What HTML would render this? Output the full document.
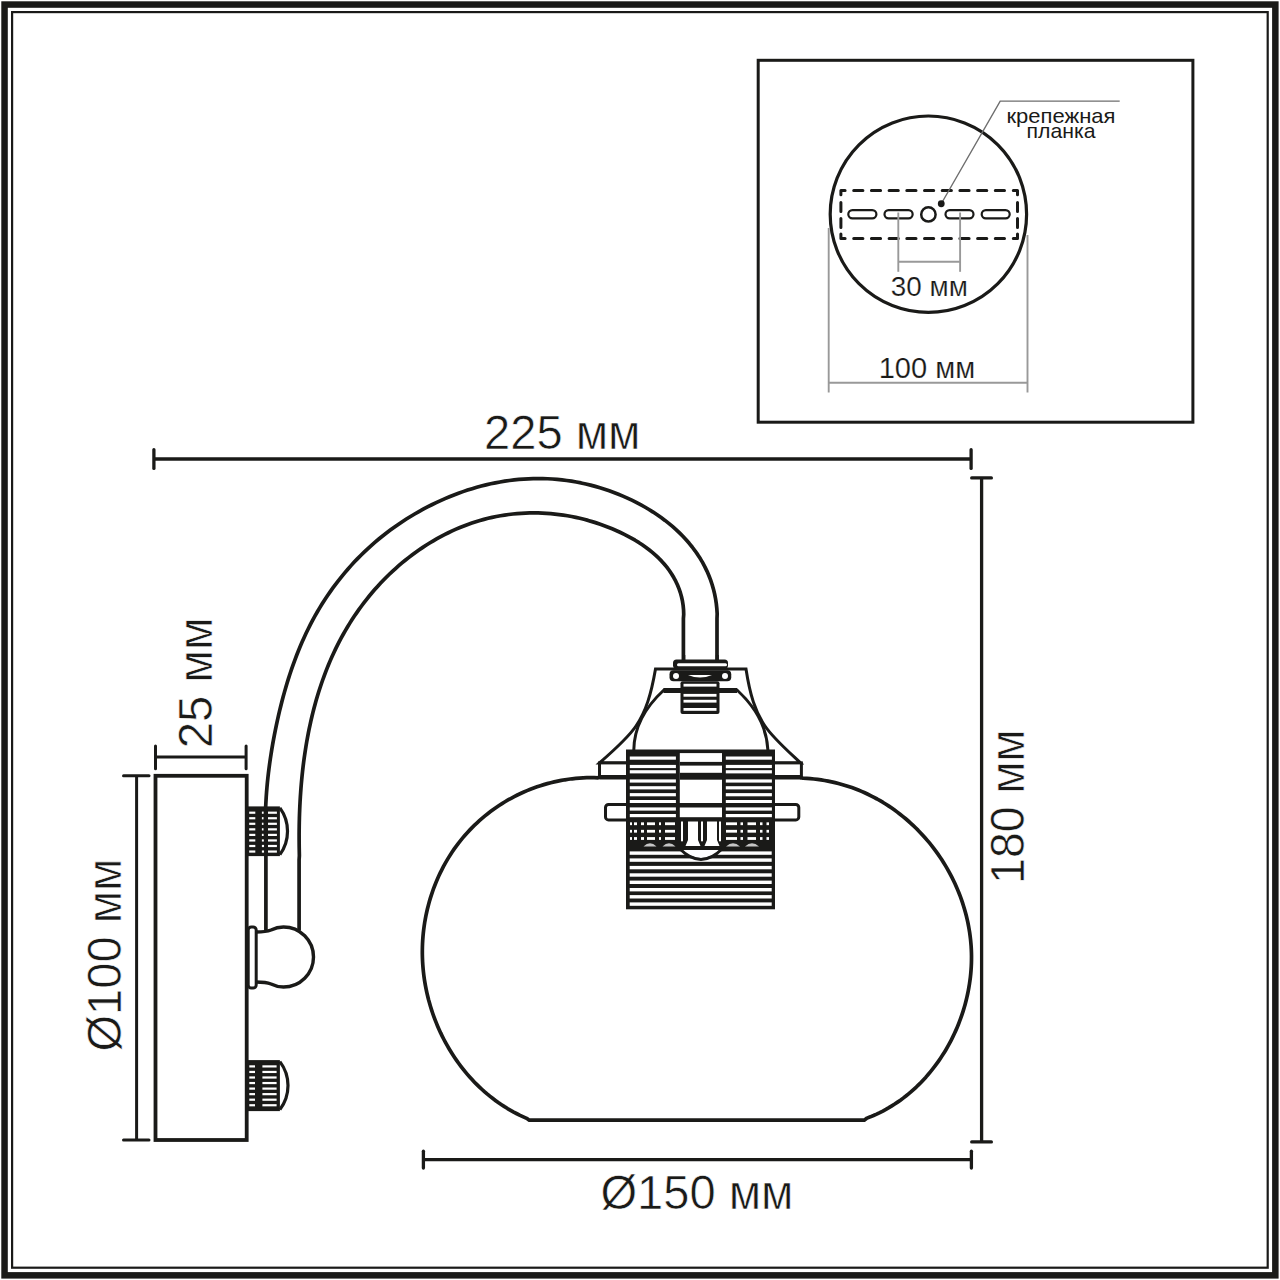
<!DOCTYPE html>
<html><head><meta charset="utf-8"><style>
html,body{margin:0;padding:0;background:#fff;}
svg{display:block;}
text{font-family:"Liberation Sans",sans-serif;}
</style></head><body>
<svg width="1280" height="1280" viewBox="0 0 1280 1280">
<rect width="1280" height="1280" fill="#fff"/>
<rect x="4.55" y="4.55" width="1270.8" height="1270.8" rx="0" fill="none" stroke="#1a1a18" stroke-width="6.5"/>
<rect x="12.1" y="12.1" width="1255.6" height="1255.6" rx="0" fill="none" stroke="#1a1a18" stroke-width="2.2"/>
<rect x="758.2" y="60.3" width="434.7" height="361.9" rx="0" fill="none" stroke="#1a1a18" stroke-width="3.0"/>
<circle cx="928.4" cy="214.2" r="98.2" fill="none" stroke="#1a1a18" stroke-width="3.2"/>
<path d="M853.70,190.4 H862.90 M853.70,238.4 H862.90 M871.40,190.4 H880.60 M871.40,238.4 H880.60 M889.10,190.4 H898.30 M889.10,238.4 H898.30 M906.80,190.4 H916.00 M906.80,238.4 H916.00 M924.50,190.4 H933.70 M924.50,238.4 H933.70 M942.20,190.4 H951.40 M942.20,238.4 H951.40 M959.90,190.4 H969.10 M959.90,238.4 H969.10 M977.60,190.4 H986.80 M977.60,238.4 H986.80 M995.30,190.4 H1004.50 M995.30,238.4 H1004.50 M840.9,202.4 V211.60 M1017.5,202.4 V211.60 M840.9,218.4 V227.60 M1017.5,218.4 V227.60 M845.1,190.4 H840.9 V194.75 M840.9,234 V238.4 H845.1 M1013.3,190.4 H1017.5 V194.75 M1017.5,234 V238.4 H1013.3" fill="none" stroke="#1a1a18" stroke-width="3" stroke-linecap="round" stroke-linejoin="round"/>
<rect x="848.3000000000001" y="210.1" width="28.10" height="8.3" rx="4.15" fill="none" stroke="#1a1a18" stroke-width="2.2"/>
<rect x="884.5" y="210.1" width="28.15" height="8.3" rx="4.15" fill="none" stroke="#1a1a18" stroke-width="2.2"/>
<rect x="945.5" y="210.1" width="28.00" height="8.3" rx="4.15" fill="none" stroke="#1a1a18" stroke-width="2.2"/>
<rect x="981.7" y="210.1" width="28.00" height="8.3" rx="4.15" fill="none" stroke="#1a1a18" stroke-width="2.2"/>
<circle cx="928.4" cy="214.4" r="7.2" fill="none" stroke="#1a1a18" stroke-width="2.5"/>
<polyline points="941.25,203.75 1000.2,101.1 1119.7,101.1" fill="none" stroke="#6e6e6e" stroke-width="1.4"/>
<circle cx="941.25" cy="203.75" r="3.4" fill="#1a1a18"/>
<line x1="898.3" y1="212.5" x2="898.3" y2="271.8" stroke="#999999" stroke-width="1.9" stroke-linecap="butt"/>
<line x1="960.1" y1="212.5" x2="960.1" y2="271.8" stroke="#999999" stroke-width="1.9" stroke-linecap="butt"/>
<line x1="898.3" y1="261.7" x2="960.1" y2="261.7" stroke="#999999" stroke-width="1.9" stroke-linecap="butt"/>
<line x1="828.7" y1="228" x2="828.7" y2="392.5" stroke="#999999" stroke-width="1.9" stroke-linecap="butt"/>
<line x1="1027.5" y1="235" x2="1027.5" y2="392.5" stroke="#999999" stroke-width="1.9" stroke-linecap="butt"/>
<line x1="828.7" y1="382.8" x2="1027.5" y2="382.8" stroke="#999999" stroke-width="1.9" stroke-linecap="butt"/>
<line x1="153.9" y1="459" x2="971.1" y2="459" stroke="#1a1a18" stroke-width="3.3" stroke-linecap="butt"/>
<line x1="153.9" y1="449.7" x2="153.9" y2="468.4" stroke="#1a1a18" stroke-width="3.3" stroke-linecap="round"/>
<line x1="971.1" y1="449.7" x2="971.1" y2="468.4" stroke="#1a1a18" stroke-width="3.3" stroke-linecap="round"/>
<line x1="981.6" y1="477.9" x2="981.6" y2="1141.9" stroke="#1a1a18" stroke-width="3.3" stroke-linecap="butt"/>
<line x1="971.7" y1="477.9" x2="991.4" y2="477.9" stroke="#1a1a18" stroke-width="3.3" stroke-linecap="round"/>
<line x1="971.7" y1="1141.9" x2="991.4" y2="1141.9" stroke="#1a1a18" stroke-width="3.3" stroke-linecap="round"/>
<line x1="423.4" y1="1159.7" x2="971.4" y2="1159.7" stroke="#1a1a18" stroke-width="3.3" stroke-linecap="butt"/>
<line x1="423.4" y1="1151.2" x2="423.4" y2="1168.1" stroke="#1a1a18" stroke-width="3.3" stroke-linecap="round"/>
<line x1="971.4" y1="1151.2" x2="971.4" y2="1168.1" stroke="#1a1a18" stroke-width="3.3" stroke-linecap="round"/>
<line x1="155.5" y1="757" x2="246.1" y2="757" stroke="#1a1a18" stroke-width="3.0" stroke-linecap="butt"/>
<line x1="155.5" y1="746" x2="155.5" y2="768.75" stroke="#1a1a18" stroke-width="3.0" stroke-linecap="round"/>
<line x1="246.1" y1="746" x2="246.1" y2="768.75" stroke="#1a1a18" stroke-width="3.0" stroke-linecap="round"/>
<line x1="136.6" y1="775.8" x2="136.6" y2="1140" stroke="#1a1a18" stroke-width="3.0" stroke-linecap="butt"/>
<line x1="123.5" y1="775.8" x2="149" y2="775.8" stroke="#1a1a18" stroke-width="3.0" stroke-linecap="round"/>
<line x1="123.5" y1="1140" x2="149" y2="1140" stroke="#1a1a18" stroke-width="3.0" stroke-linecap="round"/>
<rect x="155.5" y="775.8" width="91.2" height="364.2" rx="0" fill="none" stroke="#1a1a18" stroke-width="3.8"/>
<rect x="246.7" y="1060.1" width="33.2" height="51.0" rx="0" fill="#1a1a18"/>
<rect x="249.3" y="1065.3" width="5.699999999999989" height="2.2" rx="0" fill="#fff"/>
<rect x="262.4" y="1065.3" width="14.200000000000045" height="2.2" rx="0" fill="#fff"/>
<rect x="249.3" y="1070.85" width="5.699999999999989" height="2.2" rx="0" fill="#fff"/>
<rect x="262.4" y="1070.85" width="14.200000000000045" height="2.2" rx="0" fill="#fff"/>
<rect x="249.3" y="1076.3999999999999" width="5.699999999999989" height="2.2" rx="0" fill="#fff"/>
<rect x="262.4" y="1076.3999999999999" width="14.200000000000045" height="2.2" rx="0" fill="#fff"/>
<rect x="249.3" y="1081.95" width="5.699999999999989" height="2.2" rx="0" fill="#fff"/>
<rect x="262.4" y="1081.95" width="14.200000000000045" height="2.2" rx="0" fill="#fff"/>
<rect x="249.3" y="1087.5" width="5.699999999999989" height="2.2" rx="0" fill="#fff"/>
<rect x="262.4" y="1087.5" width="14.200000000000045" height="2.2" rx="0" fill="#fff"/>
<rect x="249.3" y="1093.05" width="5.699999999999989" height="2.2" rx="0" fill="#fff"/>
<rect x="262.4" y="1093.05" width="14.200000000000045" height="2.2" rx="0" fill="#fff"/>
<rect x="249.3" y="1098.6" width="5.699999999999989" height="2.2" rx="0" fill="#fff"/>
<rect x="262.4" y="1098.6" width="14.200000000000045" height="2.2" rx="0" fill="#fff"/>
<rect x="249.3" y="1104.1499999999999" width="5.699999999999989" height="2.2" rx="0" fill="#fff"/>
<rect x="262.4" y="1104.1499999999999" width="14.200000000000045" height="2.2" rx="0" fill="#fff"/>
<path d="M279.9,1061.6 A39.6,39.6 0 0 1 279.9,1109.6" fill="none" stroke="#1a1a18" stroke-width="3.2" />
<rect x="246.7" y="806.4" width="33.2" height="49.700000000000045" rx="0" fill="#1a1a18"/>
<rect x="249.2" y="811.5999999999999" width="6.100000000000023" height="2.2" rx="0" fill="#fff"/>
<rect x="261.9" y="811.5999999999999" width="2.8000000000000114" height="2.2" rx="0" fill="#fff"/>
<rect x="268" y="811.5999999999999" width="8.899999999999977" height="2.2" rx="0" fill="#fff"/>
<rect x="249.2" y="817.1499999999999" width="6.100000000000023" height="2.2" rx="0" fill="#fff"/>
<rect x="261.9" y="817.1499999999999" width="2.8000000000000114" height="2.2" rx="0" fill="#fff"/>
<rect x="268" y="817.1499999999999" width="8.899999999999977" height="2.2" rx="0" fill="#fff"/>
<rect x="249.2" y="822.6999999999999" width="6.100000000000023" height="2.2" rx="0" fill="#fff"/>
<rect x="261.9" y="822.6999999999999" width="2.8000000000000114" height="2.2" rx="0" fill="#fff"/>
<rect x="268" y="822.6999999999999" width="8.899999999999977" height="2.2" rx="0" fill="#fff"/>
<rect x="249.2" y="828.2499999999999" width="6.100000000000023" height="2.2" rx="0" fill="#fff"/>
<rect x="261.9" y="828.2499999999999" width="2.8000000000000114" height="2.2" rx="0" fill="#fff"/>
<rect x="268" y="828.2499999999999" width="8.899999999999977" height="2.2" rx="0" fill="#fff"/>
<rect x="249.2" y="833.8" width="6.100000000000023" height="2.2" rx="0" fill="#fff"/>
<rect x="261.9" y="833.8" width="2.8000000000000114" height="2.2" rx="0" fill="#fff"/>
<rect x="268" y="833.8" width="8.899999999999977" height="2.2" rx="0" fill="#fff"/>
<rect x="249.2" y="839.3499999999999" width="6.100000000000023" height="2.2" rx="0" fill="#fff"/>
<rect x="261.9" y="839.3499999999999" width="2.8000000000000114" height="2.2" rx="0" fill="#fff"/>
<rect x="268" y="839.3499999999999" width="8.899999999999977" height="2.2" rx="0" fill="#fff"/>
<rect x="249.2" y="844.8999999999999" width="6.100000000000023" height="2.2" rx="0" fill="#fff"/>
<rect x="261.9" y="844.8999999999999" width="2.8000000000000114" height="2.2" rx="0" fill="#fff"/>
<rect x="268" y="844.8999999999999" width="8.899999999999977" height="2.2" rx="0" fill="#fff"/>
<rect x="249.2" y="850.4499999999999" width="6.100000000000023" height="2.2" rx="0" fill="#fff"/>
<rect x="261.9" y="850.4499999999999" width="2.8000000000000114" height="2.2" rx="0" fill="#fff"/>
<rect x="268" y="850.4499999999999" width="8.899999999999977" height="2.2" rx="0" fill="#fff"/>
<path d="M279.9,807.9 A39.6,39.6 0 0 1 279.9,854.6" fill="none" stroke="#1a1a18" stroke-width="3.2" />
<path d="M265.9,930.6 L265.90,850.00 L265.92,845.13 L265.68,840.26 L265.50,835.41 L265.39,830.56 L265.34,825.72 L265.34,820.89 L265.41,816.07 L265.53,811.26 L265.70,806.45 L265.94,801.65 L266.22,796.85 L266.56,792.06 L266.95,787.28 L267.39,782.50 L267.89,777.72 L268.43,772.95 L269.02,768.19 L269.66,763.43 L270.34,758.67 L271.07,753.91 L271.84,749.16 L272.65,744.41 L273.51,739.66 L274.41,734.91 L275.35,730.16 L276.33,725.42 L277.35,720.68 L278.41,715.94 L279.51,711.20 L280.66,706.48 L281.85,701.76 L283.09,697.06 L284.38,692.37 L285.71,687.69 L287.10,683.03 L288.54,678.38 L290.03,673.76 L291.58,669.16 L293.18,664.58 L294.84,660.02 L296.56,655.49 L298.34,650.99 L300.18,646.52 L302.08,642.08 L304.04,637.68 L306.07,633.31 L308.17,628.97 L310.33,624.67 L312.56,620.42 L314.87,616.20 L317.24,612.03 L319.68,607.90 L322.18,603.82 L324.76,599.78 L327.41,595.79 L330.12,591.84 L332.90,587.95 L335.75,584.10 L338.66,580.30 L341.65,576.56 L344.70,572.86 L347.81,569.22 L351.00,565.64 L354.25,562.11 L357.56,558.63 L360.94,555.22 L364.39,551.86 L367.90,548.56 L371.48,545.32 L375.12,542.14 L378.82,539.03 L382.59,535.97 L386.42,532.99 L390.30,530.07 L394.24,527.21 L398.23,524.42 L402.28,521.71 L406.37,519.06 L410.51,516.48 L414.69,513.98 L418.91,511.56 L423.18,509.20 L427.48,506.93 L431.82,504.73 L436.19,502.61 L440.59,500.58 L445.02,498.62 L449.48,496.75 L453.97,494.96 L458.48,493.25 L463.01,491.63 L467.57,490.10 L472.15,488.66 L476.74,487.31 L481.36,486.05 L486.00,484.89 L490.66,483.82 L495.33,482.84 L500.02,481.96 L504.72,481.18 L509.44,480.49 L514.17,479.91 L518.91,479.43 L523.66,479.05 L528.42,478.78 L533.19,478.61 L537.97,478.55 L542.75,478.59 L547.54,478.75 L552.33,479.01 L557.13,479.39 L561.92,479.88 L566.72,480.48 L571.51,481.19 L576.29,482.01 L581.06,482.94 L585.81,483.98 L590.55,485.12 L595.26,486.38 L599.95,487.74 L604.61,489.20 L609.25,490.77 L613.84,492.44 L618.40,494.22 L622.92,496.10 L627.40,498.08 L631.82,500.16 L636.20,502.34 L640.52,504.62 L644.79,507.00 L648.98,509.48 L653.11,512.06 L657.16,514.74 L661.12,517.52 L665.00,520.40 L668.78,523.38 L672.47,526.45 L676.05,529.63 L679.52,532.90 L682.87,536.28 L686.11,539.75 L689.21,543.33 L692.19,547.00 L695.03,550.77 L697.72,554.64 L700.27,558.61 L702.66,562.67 L704.89,566.84 L706.95,571.10 L708.85,575.47 L710.56,579.93 L712.10,584.49 L713.45,589.15 L714.60,593.90 L715.56,598.76 L716.31,603.71 L716.85,608.76 L717.18,613.91 L717.00,618.50 L717.0,660.5" fill="none" stroke="#1a1a18" stroke-width="3.7" stroke-linejoin="round"/>
<path d="M299.1,930.6 L299.10,860.00 L299.37,855.61 L299.28,851.46 L299.20,847.31 L299.16,843.14 L299.13,838.96 L299.13,834.77 L299.15,830.58 L299.21,826.37 L299.28,822.16 L299.39,817.94 L299.52,813.71 L299.69,809.48 L299.88,805.25 L300.10,801.01 L300.35,796.77 L300.64,792.52 L300.95,788.28 L301.30,784.04 L301.68,779.79 L302.10,775.55 L302.55,771.31 L303.04,767.07 L303.56,762.84 L304.12,758.61 L304.71,754.39 L305.35,750.17 L306.02,745.96 L306.73,741.76 L307.49,737.57 L308.28,733.38 L309.11,729.21 L309.99,725.05 L310.91,720.90 L311.87,716.76 L312.88,712.64 L313.93,708.53 L315.02,704.43 L316.17,700.36 L317.36,696.29 L318.59,692.25 L319.88,688.22 L321.21,684.22 L322.59,680.23 L324.02,676.27 L325.50,672.32 L327.04,668.40 L328.62,664.51 L330.26,660.63 L331.95,656.78 L333.70,652.96 L335.50,649.16 L337.35,645.40 L339.27,641.65 L341.23,637.94 L343.26,634.26 L345.34,630.61 L347.48,626.99 L349.68,623.40 L351.93,619.85 L354.24,616.33 L356.61,612.85 L359.03,609.41 L361.51,606.00 L364.04,602.64 L366.63,599.31 L369.28,596.03 L371.98,592.78 L374.73,589.58 L377.54,586.43 L380.41,583.32 L383.33,580.26 L386.30,577.25 L389.33,574.28 L392.41,571.37 L395.54,568.51 L398.73,565.69 L401.97,562.94 L405.26,560.23 L408.60,557.59 L412.00,555.00 L415.44,552.47 L418.93,550.00 L422.46,547.60 L426.03,545.27 L429.65,543.00 L433.31,540.80 L437.01,538.67 L440.75,536.61 L444.52,534.63 L448.33,532.73 L452.18,530.90 L456.05,529.16 L459.96,527.49 L463.90,525.92 L467.86,524.42 L471.85,523.02 L475.87,521.70 L479.91,520.48 L483.97,519.35 L488.06,518.31 L492.16,517.36 L496.28,516.51 L500.42,515.74 L504.57,515.07 L508.73,514.49 L512.90,514.00 L517.09,513.60 L521.28,513.29 L525.48,513.08 L529.68,512.95 L533.88,512.91 L538.09,512.96 L542.30,513.10 L546.50,513.33 L550.70,513.64 L554.89,514.05 L559.08,514.54 L563.26,515.12 L567.43,515.78 L571.59,516.54 L575.73,517.38 L579.86,518.30 L583.97,519.32 L588.07,520.41 L592.14,521.60 L596.19,522.87 L600.22,524.22 L604.23,525.66 L608.20,527.18 L612.15,528.79 L616.07,530.48 L619.96,532.25 L623.81,534.11 L627.62,536.05 L631.37,538.09 L635.07,540.22 L638.69,542.44 L642.24,544.76 L645.70,547.18 L649.07,549.71 L652.33,552.34 L655.48,555.08 L658.52,557.93 L661.43,560.90 L664.20,563.98 L666.83,567.18 L669.31,570.50 L671.62,573.95 L673.77,577.51 L675.73,581.18 L677.50,584.97 L679.07,588.87 L680.43,592.88 L681.57,596.99 L682.48,601.20 L683.14,605.51 L683.56,609.92 L683.71,614.42 L683.40,618.50 L683.4,660.5" fill="none" stroke="#1a1a18" stroke-width="3.7" stroke-linejoin="round"/>
<path d="M256.2,932 C262,932 266,932 271,930 C276,927.5 279,927 283.5,927 A30,30 0 0 1 283.5,987 C279,987 276,986.5 271,984 C266,982 262,982 256.2,982" fill="#fff" stroke="#1a1a18" stroke-width="3.4" />
<rect x="248.2" y="927" width="8" height="61" rx="3" fill="#fff" stroke="#1a1a18" stroke-width="3"/>
<path d="M600.50,776.70 L597.96,777.78 L594.22,777.68 L590.50,777.66 L586.79,777.72 L583.10,777.87 L579.42,778.10 L575.77,778.41 L572.13,778.79 L568.51,779.26 L564.92,779.80 L561.34,780.42 L557.79,781.11 L554.27,781.88 L550.77,782.72 L547.29,783.64 L543.85,784.62 L540.43,785.68 L537.04,786.81 L533.69,788.01 L530.36,789.27 L527.07,790.61 L523.81,792.01 L520.59,793.47 L517.40,795.00 L514.25,796.60 L511.13,798.26 L508.06,799.98 L505.02,801.76 L502.03,803.60 L499.08,805.50 L496.17,807.47 L493.30,809.48 L490.48,811.56 L487.71,813.69 L484.98,815.88 L482.30,818.12 L479.67,820.41 L477.09,822.76 L474.56,825.16 L472.08,827.61 L469.66,830.11 L467.29,832.66 L464.98,835.25 L462.72,837.90 L460.52,840.59 L458.37,843.32 L456.29,846.10 L454.26,848.93 L452.30,851.79 L450.39,854.70 L448.55,857.64 L446.76,860.63 L445.04,863.65 L443.37,866.70 L441.77,869.79 L440.23,872.91 L438.75,876.06 L437.33,879.25 L435.97,882.46 L434.68,885.70 L433.45,888.97 L432.28,892.26 L431.18,895.57 L430.14,898.91 L429.16,902.27 L428.25,905.65 L427.40,909.05 L426.61,912.46 L425.89,915.89 L425.24,919.34 L424.65,922.79 L424.13,926.27 L423.67,929.75 L423.28,933.24 L422.96,936.74 L422.70,940.25 L422.51,943.76 L422.39,947.28 L422.33,950.80 L422.34,954.32 L422.43,957.84 L422.57,961.36 L422.79,964.88 L423.07,968.40 L423.42,971.91 L423.84,975.42 L424.32,978.92 L424.87,982.41 L425.48,985.89 L426.16,989.36 L426.90,992.82 L427.71,996.27 L428.57,999.70 L429.51,1003.11 L430.50,1006.51 L431.56,1009.89 L432.67,1013.25 L433.85,1016.59 L435.09,1019.90 L436.39,1023.19 L437.75,1026.46 L439.18,1029.70 L440.65,1032.92 L442.19,1036.10 L443.79,1039.26 L445.45,1042.38 L447.16,1045.48 L448.93,1048.53 L450.76,1051.56 L452.64,1054.55 L454.58,1057.50 L456.57,1060.41 L458.62,1063.28 L460.73,1066.11 L462.89,1068.90 L465.10,1071.64 L467.37,1074.34 L469.69,1076.99 L472.06,1079.59 L474.49,1082.15 L476.97,1084.65 L479.50,1087.11 L482.08,1089.51 L484.71,1091.86 L487.39,1094.15 L490.12,1096.38 L492.90,1098.56 L495.73,1100.68 L498.61,1102.74 L501.53,1104.73 L504.51,1106.67 L507.53,1108.54 L510.60,1110.34 L513.71,1112.08 L516.88,1113.75 L520.08,1115.35 L523.34,1116.88 L526.63,1118.34 L529.30,1120.20 L864.2,1120.2 L864.20,1120.20 L867.06,1118.11 L870.31,1116.84 L873.51,1115.50 L876.67,1114.08 L879.79,1112.59 L882.87,1111.03 L885.91,1109.39 L888.90,1107.68 L891.84,1105.90 L894.74,1104.06 L897.60,1102.14 L900.41,1100.17 L903.18,1098.13 L905.89,1096.03 L908.56,1093.86 L911.19,1091.64 L913.76,1089.36 L916.29,1087.03 L918.76,1084.63 L921.19,1082.19 L923.56,1079.69 L925.89,1077.15 L928.16,1074.55 L930.38,1071.90 L932.55,1069.21 L934.67,1066.47 L936.73,1063.69 L938.74,1060.87 L940.70,1058.00 L942.59,1055.10 L944.44,1052.16 L946.23,1049.18 L947.96,1046.16 L949.63,1043.11 L951.25,1040.03 L952.81,1036.92 L954.31,1033.78 L955.75,1030.61 L957.13,1027.41 L958.46,1024.19 L959.72,1020.94 L960.92,1017.67 L962.06,1014.38 L963.13,1011.06 L964.15,1007.73 L965.10,1004.39 L965.99,1001.02 L966.81,997.65 L967.57,994.25 L968.26,990.85 L968.89,987.44 L969.45,984.02 L969.95,980.59 L970.38,977.16 L970.74,973.72 L971.03,970.27 L971.25,966.83 L971.41,963.38 L971.49,959.94 L971.51,956.50 L971.45,953.06 L971.32,949.63 L971.13,946.20 L970.86,942.79 L970.53,939.37 L970.12,935.97 L969.65,932.58 L969.11,929.20 L968.51,925.83 L967.84,922.47 L967.11,919.13 L966.31,915.80 L965.44,912.49 L964.52,909.19 L963.53,905.92 L962.48,902.66 L961.37,899.42 L960.20,896.20 L958.97,893.00 L957.68,889.83 L956.33,886.68 L954.92,883.56 L953.46,880.46 L951.93,877.38 L950.36,874.34 L948.72,871.32 L947.04,868.33 L945.29,865.38 L943.50,862.45 L941.65,859.56 L939.75,856.70 L937.80,853.88 L935.79,851.09 L933.74,848.34 L931.64,845.62 L929.48,842.95 L927.28,840.31 L925.03,837.71 L922.74,835.16 L920.39,832.64 L918.01,830.17 L915.57,827.75 L913.09,825.37 L910.57,823.04 L908.00,820.75 L905.40,818.51 L902.74,816.32 L900.05,814.19 L897.32,812.10 L894.54,810.06 L891.73,808.08 L888.88,806.15 L885.99,804.28 L883.06,802.46 L880.09,800.71 L877.09,799.00 L874.05,797.36 L870.98,795.78 L867.87,794.26 L864.73,792.80 L861.56,791.40 L858.35,790.07 L855.11,788.81 L851.84,787.60 L848.54,786.47 L845.21,785.40 L841.84,784.41 L838.45,783.48 L835.04,782.62 L831.59,781.84 L828.12,781.13 L824.62,780.49 L821.09,779.93 L817.54,779.44 L813.97,779.03 L810.37,778.70 L806.75,778.44 L803.11,778.27 L800.40,777.40" fill="none" stroke="#1a1a18" stroke-width="3.7" stroke-linejoin="round"/>
<path d="M599.5,762.9 C612,752 628,738 636,726 C646,711 651,695 655.5,669 L746,669 C750,695 755,711 765,726 C773,738 789,752 800.5,762.9 Z" fill="#fff" stroke="#1a1a18" stroke-width="3" />
<rect x="599.5" y="762.9" width="201.9" height="14.6" rx="0" fill="#fff" stroke="#1a1a18" stroke-width="3"/>
<line x1="599.5" y1="777.2" x2="801.4" y2="777.2" stroke="#1a1a18" stroke-width="4.6" stroke-linecap="butt"/>
<path d="M633.8,750 C634,733 640,712 663.9,690 L737,690 C761,712 767,733 767.9,750" fill="#fff" stroke="#1a1a18" stroke-width="3" />
<line x1="663.5" y1="690.5" x2="737" y2="690.5" stroke="#1a1a18" stroke-width="5" stroke-linecap="butt"/>
<rect x="680.5" y="681.25" width="39" height="32.75" rx="2" fill="#1a1a18"/>
<rect x="683.5" y="683.8000000000001" width="33" height="2.8" rx="0" fill="#fff"/>
<rect x="683.5" y="693.9" width="33" height="2.8" rx="0" fill="#fff"/>
<rect x="683.5" y="699.8000000000001" width="33" height="2.8" rx="0" fill="#fff"/>
<rect x="683.5" y="708.0" width="33" height="2.8" rx="0" fill="#fff"/>
<rect x="669.5" y="670.3" width="61.75" height="11" rx="4" fill="#1a1a18"/>
<rect x="673" y="673" width="6" height="6" rx="3" fill="#fff"/>
<rect x="722" y="673" width="6" height="6" rx="3" fill="#fff"/>
<path d="M688,675 Q700,680 712,675 Z" fill="#fff"/>
<rect x="673" y="659.4" width="55" height="9.4" rx="3.5" fill="#1a1a18"/>
<rect x="677" y="663.3" width="50" height="3" rx="1.5" fill="#fff"/>
<line x1="683.8" y1="655" x2="683.8" y2="660" stroke="#1a1a18" stroke-width="3" stroke-linecap="butt"/>
<line x1="717.3" y1="655" x2="717.3" y2="660" stroke="#1a1a18" stroke-width="3" stroke-linecap="butt"/>
<rect x="626" y="749.5" width="149" height="159.8" rx="0" fill="#1a1a18"/>
<rect x="679.8" y="753.1" width="42.2" height="65.9" rx="0" fill="#fff"/>
<rect x="679.8" y="761.9" width="42.2" height="3.7" rx="0" fill="#1a1a18"/>
<rect x="679.8" y="772.8" width="42.2" height="6.9" rx="0" fill="#1a1a18"/>
<rect x="679.8" y="803.75" width="42.2" height="3.75" rx="0" fill="#1a1a18"/>
<rect x="679.8" y="817.2" width="42.2" height="2.5" rx="0" fill="#1a1a18"/>
<rect x="629.8" y="756.5" width="46.1" height="3.2" rx="0" fill="#fff"/>
<rect x="725.8" y="756.5" width="46.1" height="3.2" rx="0" fill="#fff"/>
<rect x="629.8" y="764.9" width="46.1" height="3.2" rx="0" fill="#fff"/>
<rect x="725.8" y="764.9" width="46.1" height="3.2" rx="0" fill="#fff"/>
<rect x="629.8" y="770.1999999999999" width="46.1" height="3.2" rx="0" fill="#fff"/>
<rect x="725.8" y="770.1999999999999" width="46.1" height="3.2" rx="0" fill="#fff"/>
<rect x="629.8" y="779.4" width="46.1" height="3.2" rx="0" fill="#fff"/>
<rect x="725.8" y="779.4" width="46.1" height="3.2" rx="0" fill="#fff"/>
<rect x="629.8" y="786.1999999999999" width="46.1" height="3.2" rx="0" fill="#fff"/>
<rect x="725.8" y="786.1999999999999" width="46.1" height="3.2" rx="0" fill="#fff"/>
<rect x="629.8" y="793.1" width="46.1" height="3.2" rx="0" fill="#fff"/>
<rect x="725.8" y="793.1" width="46.1" height="3.2" rx="0" fill="#fff"/>
<rect x="629.8" y="800.0" width="46.1" height="3.2" rx="0" fill="#fff"/>
<rect x="725.8" y="800.0" width="46.1" height="3.2" rx="0" fill="#fff"/>
<rect x="629.8" y="807.4" width="46.1" height="3.2" rx="0" fill="#fff"/>
<rect x="725.8" y="807.4" width="46.1" height="3.2" rx="0" fill="#fff"/>
<rect x="629.8" y="814.0" width="46.1" height="3.2" rx="0" fill="#fff"/>
<rect x="725.8" y="814.0" width="46.1" height="3.2" rx="0" fill="#fff"/>
<rect x="630" y="822.35" width="2" height="2.8" rx="0" fill="#fff"/>
<rect x="634" y="822.35" width="3" height="2.8" rx="0" fill="#fff"/>
<rect x="641" y="822.35" width="3" height="2.8" rx="0" fill="#fff"/>
<rect x="647" y="822.35" width="8" height="2.8" rx="0" fill="#fff"/>
<rect x="659" y="822.35" width="2" height="2.8" rx="0" fill="#fff"/>
<rect x="665" y="822.35" width="10" height="2.8" rx="0" fill="#fff"/>
<rect x="726" y="822.35" width="11" height="2.8" rx="0" fill="#fff"/>
<rect x="740.5" y="822.35" width="2.5" height="2.8" rx="0" fill="#fff"/>
<rect x="747.5" y="822.35" width="8.5" height="2.8" rx="0" fill="#fff"/>
<rect x="760" y="822.35" width="2.5" height="2.8" rx="0" fill="#fff"/>
<rect x="766.5" y="822.35" width="2.5" height="2.8" rx="0" fill="#fff"/>
<rect x="630" y="829.85" width="2" height="2.8" rx="0" fill="#fff"/>
<rect x="634" y="829.85" width="3" height="2.8" rx="0" fill="#fff"/>
<rect x="641" y="829.85" width="3" height="2.8" rx="0" fill="#fff"/>
<rect x="647" y="829.85" width="8" height="2.8" rx="0" fill="#fff"/>
<rect x="659" y="829.85" width="2" height="2.8" rx="0" fill="#fff"/>
<rect x="665" y="829.85" width="10" height="2.8" rx="0" fill="#fff"/>
<rect x="726" y="829.85" width="11" height="2.8" rx="0" fill="#fff"/>
<rect x="740.5" y="829.85" width="2.5" height="2.8" rx="0" fill="#fff"/>
<rect x="747.5" y="829.85" width="8.5" height="2.8" rx="0" fill="#fff"/>
<rect x="760" y="829.85" width="2.5" height="2.8" rx="0" fill="#fff"/>
<rect x="766.5" y="829.85" width="2.5" height="2.8" rx="0" fill="#fff"/>
<rect x="630" y="837.1" width="2" height="2.8" rx="0" fill="#fff"/>
<rect x="634" y="837.1" width="3" height="2.8" rx="0" fill="#fff"/>
<rect x="641" y="837.1" width="3" height="2.8" rx="0" fill="#fff"/>
<rect x="647" y="837.1" width="8" height="2.8" rx="0" fill="#fff"/>
<rect x="659" y="837.1" width="2" height="2.8" rx="0" fill="#fff"/>
<rect x="665" y="837.1" width="10" height="2.8" rx="0" fill="#fff"/>
<rect x="726" y="837.1" width="11" height="2.8" rx="0" fill="#fff"/>
<rect x="740.5" y="837.1" width="2.5" height="2.8" rx="0" fill="#fff"/>
<rect x="747.5" y="837.1" width="8.5" height="2.8" rx="0" fill="#fff"/>
<rect x="760" y="837.1" width="2.5" height="2.8" rx="0" fill="#fff"/>
<rect x="766.5" y="837.1" width="2.5" height="2.8" rx="0" fill="#fff"/>
<path d="M643.5,846.5 Q650.0,840 656.5,846.5 Z" fill="#fff" opacity="0.75"/>
<path d="M662.5,846.5 Q669.0,840 675.5,846.5 Z" fill="#fff" opacity="0.75"/>
<path d="M726,846.5 Q733.0,840 740,846.5 Z" fill="#fff" opacity="0.75"/>
<path d="M745,846.5 Q752.0,840 759,846.5 Z" fill="#fff" opacity="0.75"/>
<rect x="681" y="820.6" width="2" height="20.7" rx="0" fill="#fff"/>
<rect x="688" y="820.6" width="10" height="20.7" rx="0" fill="#fff"/>
<rect x="701" y="820.6" width="2" height="20.7" rx="0" fill="#fff"/>
<rect x="707" y="820.6" width="10" height="20.7" rx="0" fill="#fff"/>
<rect x="719" y="820.6" width="2" height="20.7" rx="0" fill="#fff"/>
<path d="M682,850 Q701,866 720,850 Z" fill="#fff"/>
<path d="M688,840 L698,840 L700.5,846 L685.5,846 Z M707,840 L717,840 L719.5,846 L704.5,846 Z" fill="#fff"/>
<rect x="629.7" y="851.4" width="142" height="3.4" rx="0" fill="#fff"/>
<rect x="629.7" y="858.4" width="142" height="3.4" rx="0" fill="#fff"/>
<rect x="629.7" y="865.9" width="142" height="3.4" rx="0" fill="#fff"/>
<rect x="629.7" y="873.3" width="142" height="3.4" rx="0" fill="#fff"/>
<rect x="629.7" y="880.5999999999999" width="142" height="3.4" rx="0" fill="#fff"/>
<rect x="629.7" y="888.0" width="142" height="3.4" rx="0" fill="#fff"/>
<rect x="629.7" y="895.0999999999999" width="142" height="3.4" rx="0" fill="#fff"/>
<rect x="629.7" y="902.4" width="142" height="3.4" rx="0" fill="#fff"/>
<path d="M680,849 Q701,870 722,849" fill="none" stroke="#1a1a18" stroke-width="3"/>
<rect x="605.5" y="804.5" width="193.3" height="15.4" rx="3" fill="none" stroke="#1a1a18" stroke-width="3"/>
<rect x="626" y="803" width="149" height="18" rx="0" fill="#1a1a18"/>
<rect x="629.8" y="807.4" width="46.1" height="3.2" rx="0" fill="#fff"/>
<rect x="725.8" y="807.4" width="46.1" height="3.2" rx="0" fill="#fff"/>
<rect x="629.8" y="814.0" width="46.1" height="3.2" rx="0" fill="#fff"/>
<rect x="725.8" y="814.0" width="46.1" height="3.2" rx="0" fill="#fff"/>
<rect x="679.8" y="807.5" width="42.2" height="9.7" rx="0" fill="#fff"/>
<text x="1006.5" y="123" font-size="21" textLength="109" lengthAdjust="spacingAndGlyphs" fill="#1a1a18" stroke="#fff" stroke-width="0" paint-order="fill">крепежная</text>
<text x="1026.5" y="138.4" font-size="21" textLength="69" lengthAdjust="spacingAndGlyphs" fill="#1a1a18" stroke="#fff" stroke-width="0" paint-order="fill">планка</text>
<text x="890.8" y="295.7" font-size="27.5" textLength="77" lengthAdjust="spacingAndGlyphs" fill="#1a1a18" stroke="#fff" stroke-width="0.2" paint-order="fill">30 мм</text>
<text x="878.7" y="377.9" font-size="29" textLength="96.5" lengthAdjust="spacingAndGlyphs" fill="#1a1a18" stroke="#fff" stroke-width="0.2" paint-order="fill">100 мм</text>
<text x="484" y="449.2" font-size="48" textLength="156.5" lengthAdjust="spacingAndGlyphs" fill="#1a1a18" stroke="#fff" stroke-width="0.6" paint-order="fill">225 мм</text>
<text x="600.5" y="1208.9" font-size="47.5" textLength="193" lengthAdjust="spacingAndGlyphs" fill="#1a1a18" stroke="#fff" stroke-width="0.6" paint-order="fill">Ø150 мм</text>
<text x="211.7" y="748.3" font-size="47.5" textLength="131" lengthAdjust="spacingAndGlyphs" fill="#1a1a18" stroke="#fff" stroke-width="0.6" paint-order="fill" transform="rotate(-90 211.7 748.3)">25 мм</text>
<text x="1023.9" y="883.7" font-size="47.5" textLength="154" lengthAdjust="spacingAndGlyphs" fill="#1a1a18" stroke="#fff" stroke-width="0.6" paint-order="fill" transform="rotate(-90 1023.9 883.7)">180 мм</text>
<text x="120.8" y="1051.6" font-size="47.5" textLength="193" lengthAdjust="spacingAndGlyphs" fill="#1a1a18" stroke="#fff" stroke-width="0.6" paint-order="fill" transform="rotate(-90 120.8 1051.6)">Ø100 мм</text>
</svg>
</body></html>
